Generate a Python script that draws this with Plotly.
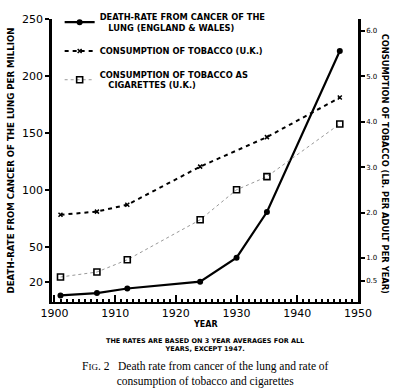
import plotly.graph_objects as go

# ---- data ----
years_death = [1901, 1907, 1912, 1924, 1930, 1935, 1947]
death_rate = [8, 10, 14, 20, 41, 81, 222]          # per million (left axis)

years_tob = [1901, 1907, 1912, 1924, 1935, 1947]
tobacco = [1.95, 2.02, 2.17, 3.01, 3.66, 4.53]     # right axis

years_cig = [1901, 1907, 1912, 1924, 1930, 1935, 1947]
cigarettes = [0.58, 0.69, 0.96, 1.84, 2.50, 2.79, 3.95]  # right axis

left_ticks = [20, 50, 100, 150, 200, 250]
right_ticks = [0.5, 1, 2, 3, 4, 5, 6]
right_tick_text = ["0.5", "1.0", "2.0", "3.0", "4.0", "5.0", "6.0"]
x_ticks = [1900, 1910, 1920, 1930, 1940, 1950]

names = [
    "<b>DEATH-RATE FROM CANCER OF THE<br>   LUNG (ENGLAND &amp; WALES)</b>",
    "<b>CONSUMPTION OF TOBACCO (U.K.)</b>",
    "<b>CONSUMPTION OF TOBACCO AS<br>   CIGARETTES (U.K.)</b>",
]

SANS = "DejaVu Sans"
SERIF = "Liberation Serif"

fig = go.Figure()
fig.add_trace(go.Scatter(
    x=years_death, y=death_rate, name=names[0], mode="lines+markers",
    legendgroup="a",
    line=dict(color="black", width=2.2),
    marker=dict(symbol="circle", size=6, color="black"),
    yaxis="y"))
fig.add_trace(go.Scatter(
    x=years_tob, y=tobacco, name=names[1], mode="lines+markers",
    legendgroup="b",
    line=dict(color="black", width=2, dash="4px,4px"),
    marker=dict(symbol="x-thin", size=4, color="black", line=dict(width=1.5, color="black")),
    yaxis="y2"))
fig.add_trace(go.Scatter(
    x=years_cig, y=cigarettes, name=names[2], mode="lines+markers",
    legendgroup="c",
    line=dict(color="#999999", width=1, dash="dot"),
    marker=dict(symbol="square-open", size=6, color="black", line=dict(width=1.6)),
    yaxis="y2"))

fig.update_layout(
    width=404, height=391,
    margin=dict(l=52, r=46, t=19, b=89, autoexpand=False),
    paper_bgcolor="white", plot_bgcolor="white",
    showlegend=True,
    legend=dict(x=0.025, y=1.05, xanchor="left", yanchor="top",
                bgcolor="rgba(0,0,0,0)", font=dict(family=SANS, size=8.3, color="black"),
                tracegroupgap=7, itemwidth=30),
    xaxis=dict(range=[1899.6, 1950], tickvals=x_ticks, ticks="inside", ticklen=7,
               tickwidth=1.5, tickcolor="black", automargin=False,
               minor=dict(dtick=1, ticks="inside", ticklen=3, tickcolor="black"),
               showline=True, linecolor="black", linewidth=2, showgrid=False, zeroline=False,
               tickfont=dict(family=SANS, size=11, color="black")),
    yaxis=dict(range=[2.2, 250], tickvals=left_ticks, ticks="outside", ticklen=4,
               tickwidth=1.5, tickcolor="black", automargin=False,
               showline=True, linecolor="black", linewidth=2.5, showgrid=False, zeroline=False,
               tickfont=dict(family=SANS, size=11, color="black"),
               title=dict(text="<b>DEATH-RATE FROM CANCER OF THE LUNG PER MILLION</b>",
                          font=dict(family=SANS, size=8.6, color="black"), standoff=7)),
    yaxis2=dict(range=[0.03, 6.26], overlaying="y", side="right",
                tickvals=right_ticks, ticktext=right_tick_text, ticks="outside", ticklen=4,
                tickwidth=1.5, tickcolor="black", automargin=False,
                showline=True, linecolor="black", linewidth=2.5, showgrid=False, zeroline=False,
                tickfont=dict(family=SANS, size=7, color="black")),
)

fig.add_annotation(xref="paper", yref="paper", x=1.11, y=0.49, textangle=90,
                   text="<b>CONSUMPTION OF TOBACCO (LB. PER ADULT PER YEAR)</b>",
                   showarrow=False, font=dict(family=SANS, size=8.3, color="black"))
fig.add_annotation(xref="paper", yref="paper", x=0.5, y=-0.08, yanchor="middle",
                   text="<b>YEAR</b>", showarrow=False,
                   font=dict(family=SANS, size=8, color="black"))
fig.add_annotation(xref="paper", yref="paper", x=0.5, y=-0.152, yanchor="middle",
                   text="<b>THE RATES ARE BASED ON 3 YEAR AVERAGES FOR ALL<br>YEARS, EXCEPT 1947.</b>",
                   showarrow=False, font=dict(family=SANS, size=6.5, color="black"))
fig.add_annotation(xref="paper", yref="paper", x=0.5, y=-0.254, yanchor="middle",
                   text="F<span style='font-size:9px'>IG</span>. 2   Death rate from cancer of the lung and rate of<br>consumption of tobacco and cigarettes",
                   showarrow=False, font=dict(family=SERIF, size=11.5, color="black"))

fig.write_html("out.html", config={"displayModeBar": False},
               post_script="document.body.style.margin='0';document.body.style.overflow='hidden';")
